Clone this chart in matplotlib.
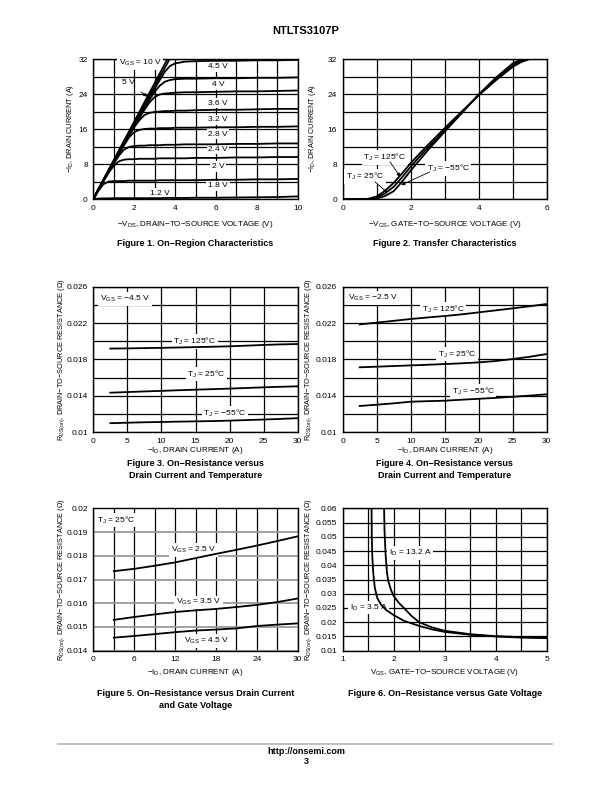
import matplotlib.pyplot as plt
import numpy as np

plt.rcParams['font.family'] = ['Liberation Sans', 'DejaVu Sans']
plt.rcParams['mathtext.fontset'] = 'custom'
plt.rcParams['mathtext.rm'] = 'Liberation Sans'
plt.rcParams['mathtext.it'] = 'Liberation Sans:italic'
plt.rcParams['mathtext.bf'] = 'Liberation Sans:bold'

# ---- Figure 1: on-region characteristics
vds = [0, 0.25, 0.5, 0.75, 1, 1.25, 1.5, 1.75, 2, 2.25, 2.5, 2.75, 3, 3.25, 3.5, 3.75, 4, 4.5, 5, 6, 7, 8, 9, 10]
id_10v = [0, 2.3, 4.5, 6.7, 8.9, 11.1, 13.3, 15.5, 17.7, 19.9, 22.1, 24.3, 26.5, 28.7, 30.9, 33.1]
id_5v = [0, 2.2, 4.4, 6.6, 8.7, 10.9, 13.0, 15.2, 17.3, 19.4, 21.6, 23.7, 25.8, 27.9, 30.0, 32.1]
id_45v = [0, 2.2, 4.4, 6.5, 8.7, 10.8, 12.9, 15.0, 17.1, 19.2, 21.2, 23.2, 25.2, 27.2, 29.1, 30.4, 31.0, 31.4, 31.5, 31.6, 31.6, 31.7, 31.7, 31.8]
id_4v = [0, 2.2, 4.3, 6.4, 8.5, 10.6, 12.7, 14.8, 16.8, 18.8, 20.8, 22.7, 24.5, 25.9, 26.8, 27.2, 27.4, 27.5, 27.5, 27.6, 27.6, 27.7, 27.7, 27.8]
id_36v = [0, 2.2, 4.3, 6.4, 8.5, 10.6, 12.6, 14.6, 16.6, 18.5, 20.4, 22.1, 23.3, 23.9, 24.1, 24.2, 24.3, 24.4, 24.4, 24.5, 24.6, 24.6, 24.7, 24.8]
id_32v = [0, 2.2, 4.3, 6.4, 8.4, 10.5, 12.5, 14.5, 16.4, 18.0, 19.2, 19.7, 19.9, 20.0, 20.1, 20.1, 20.2, 20.2, 20.3, 20.4, 20.4, 20.5, 20.6, 20.6]
id_28v = [0, 2.2, 4.3, 6.3, 8.3, 10.3, 12.3, 14.1, 15.3, 15.8, 16.0, 16.1, 16.1, 16.2, 16.2, 16.2, 16.3, 16.3, 16.3, 16.4, 16.4, 16.5, 16.5, 16.6]
id_24v = [0, 2.2, 4.2, 6.2, 8.1, 9.9, 11.3, 11.9, 12.1, 12.2, 12.2, 12.3, 12.3, 12.3, 12.4, 12.4, 12.4, 12.5, 12.5, 12.5, 12.6, 12.6, 12.7, 12.7]
id_2v = [0, 2.1, 4.1, 6.0, 7.6, 8.6, 9.0, 9.1, 9.1, 9.2, 9.2, 9.2, 9.2, 9.3, 9.3, 9.3, 9.3, 9.3, 9.4, 9.4, 9.5, 9.5, 9.6, 9.6]
id_18v = [0, 1.9, 3.4, 4.0, 4.1, 4.1, 4.1, 4.2, 4.2, 4.2, 4.2, 4.2, 4.2, 4.3, 4.3, 4.3, 4.3, 4.3, 4.3, 4.4, 4.4, 4.5, 4.5, 4.6]
id_12v = [0, 0.1, 0.15, 0.15, 0.2, 0.2, 0.2, 0.2, 0.2, 0.2, 0.2, 0.2, 0.2, 0.2, 0.25, 0.25, 0.25, 0.25, 0.3, 0.3, 0.35, 0.4, 0.45, 0.6]

# ---- Figure 2: transfer characteristics
vgs2 = [0, 0.5, 0.75, 1.0, 1.25, 1.5, 1.75, 2.0, 2.25, 2.5, 3.0, 3.5, 4.0, 4.5, 5.0, 5.25, 5.5, 6.0]
id_125c = [0, 0, 0.05, 0.6, 1.9, 3.7, 5.9, 8.2, 10.3, 12.3, 16.2, 20.0, 23.7, 27.1, 30.2, 31.3, 32.0, 32.5]
id_25c = [0, 0, 0, 0.3, 1.3, 2.8, 5.0, 7.4, 9.6, 11.7, 15.8, 19.8, 23.8, 27.4, 30.6, 31.6, 32.1, 32.5]
id_m55c = [0, 0, 0, 0.1, 0.7, 1.8, 4.0, 6.5, 8.8, 11.1, 15.4, 19.6, 23.9, 27.7, 31.0, 31.9, 32.3, 32.6]

# ---- Figures 3 and 4: on-resistance vs drain current and temperature
id34 = [2.5, 5, 7.5, 10, 12.5, 15, 17.5, 20, 22.5, 25, 27.5, 30]
r3_125c = [0.0192, 0.01922, 0.01925, 0.01928, 0.01932, 0.01936, 0.0194, 0.01945, 0.01952, 0.0196, 0.01966, 0.0197]
r3_25c = [0.01435, 0.01442, 0.01449, 0.01455, 0.01462, 0.01468, 0.01474, 0.0148, 0.01487, 0.01494, 0.015, 0.01505]
r3_m55c = [0.0110, 0.01105, 0.0111, 0.01113, 0.01117, 0.0112, 0.01123, 0.01128, 0.01134, 0.0114, 0.01147, 0.01155]
r4_125c = [0.02186, 0.02205, 0.02225, 0.02245, 0.02262, 0.02278, 0.02296, 0.02318, 0.0234, 0.02362, 0.02385, 0.0241]
r4_25c = [0.01714, 0.01721, 0.01728, 0.01735, 0.01742, 0.0175, 0.01758, 0.01768, 0.01783, 0.01805, 0.0183, 0.0186]
r4_m55c = [0.01289, 0.01303, 0.01318, 0.01336, 0.01342, 0.01347, 0.01358, 0.01368, 0.01378, 0.0139, 0.01403, 0.01417]

# ---- Figure 5: on-resistance vs drain current and gate voltage
id5 = [3, 6, 9, 12, 15, 18, 21, 24, 27, 30]
r5_25v = [0.01735, 0.01745, 0.01758, 0.01772, 0.0179, 0.01808, 0.01825, 0.01843, 0.01862, 0.01882]
r5_35v = [0.0153, 0.01542, 0.01553, 0.01563, 0.0157, 0.01576, 0.01584, 0.01593, 0.01605, 0.0162]
r5_45v = [0.01455, 0.01462, 0.0147, 0.01478, 0.01485, 0.01489, 0.01494, 0.01504, 0.0151, 0.01515]

# ---- Figure 6: on-resistance vs gate voltage
vgs_35a = [1.565, 1.57, 1.58, 1.6, 1.63, 1.68, 1.75, 1.85, 2.0, 2.2, 2.5, 2.75, 3.0, 3.5, 4.0, 4.5, 5.0]
r_35a = [0.061, 0.050, 0.043, 0.037, 0.032, 0.0284, 0.0262, 0.0243, 0.0225, 0.0205, 0.0187, 0.0175, 0.0166, 0.0156, 0.0150, 0.0146, 0.0144]
vgs_132a = [1.81, 1.82, 1.84, 1.87, 1.9, 1.95, 2.0, 2.1, 2.2, 2.35, 2.5, 2.75, 3.0, 3.5, 4.0, 4.5, 5.0]
r_132a = [0.061, 0.052, 0.044, 0.037, 0.034, 0.0312, 0.0292, 0.0268, 0.0250, 0.0222, 0.0200, 0.0182, 0.0170, 0.0158, 0.0151, 0.0148, 0.0146]

TICK = 6
LAB = 5.8
YLAB = 5.3
ANN = 6
LW = 1.3


def setup(ax, xlim, ylim, xgrid, ygrid, xticks, yticks, ylabels=None, ygray=False):
    ax.set_xlim(xlim)
    ax.set_ylim(ylim)
    ax.set_xticks(xticks)
    ax.set_yticks(yticks)
    if ylabels is not None:
        ax.set_yticklabels(ylabels)
    ax.set_xticks(xgrid, minor=True)
    ax.set_yticks(ygrid, minor=True)
    ax.set_axisbelow(True)
    ax.grid(axis='x', which='both', color='k', lw=0.9)
    if ygray:
        ax.grid(axis='y', which='both', color='#9a9a9a', lw=1.3)
    else:
        ax.grid(axis='y', which='both', color='k', lw=0.9)
    ax.tick_params(which='both', length=0, labelsize=TICK, pad=4)
    for s in ax.spines.values():
        s.set_linewidth(1.0)


def label(ax, x, y, s, ha='center'):
    ax.text(x, y, s, fontsize=ANN, ha=ha, va='center', zorder=3,
            bbox=dict(facecolor='white', edgecolor='none', pad=1.2))


fig = plt.figure(figsize=(6.12, 7.92), dpi=100)

fig.text(0.5, 1 - 31 / 792, 'NTLTS3107P', ha='center', va='center', fontsize=8, fontweight='bold')

# Figure 1
ax1 = fig.add_axes([0.1525, 0.7487, 0.334, 0.1768])
setup(ax1, (0, 10), (0, 32), np.arange(0, 11, 1), np.arange(0, 33, 4), [0, 2, 4, 6, 8, 10], [0, 8, 16, 24, 32])
ax1.plot(vds[:len(id_10v)], id_10v, 'k', lw=LW, zorder=4)
ax1.plot(vds[:len(id_5v)], id_5v, 'k', lw=LW, zorder=4)
for curve in [id_45v, id_4v, id_36v, id_32v, id_28v, id_24v, id_2v, id_18v, id_12v]:
    ax1.plot(vds, curve, 'k', lw=LW, zorder=4)
label(ax1, 2.29, 31.0, 'V$_{\\mathrm{GS}}$ = 10 V')
ax1.annotate('5 V', xy=(2.64, 23.4), xytext=(1.71, 26.7), fontsize=ANN, ha='center', va='center',
             arrowprops=dict(arrowstyle='-|>', color='k', lw=0.6, mutation_scale=5, shrinkA=4, shrinkB=0))
for y, s in [(30.2, '4.5 V'), (26.2, '4 V'), (21.9, '3.6 V'), (18.1, '3.2 V'), (14.8, '2.8 V'),
             (11.4, '2.4 V'), (7.4, '2 V'), (3.0, '1.8 V')]:
    label(ax1, 6.1, y, s)
label(ax1, 3.26, 1.3, '1.2 V')

# Figure 2
ax2 = fig.add_axes([0.560, 0.7487, 0.3333, 0.1768])
setup(ax2, (0, 6), (0, 32), np.arange(0, 7, 1), np.arange(0, 33, 4), [0, 2, 4, 6], [0, 8, 16, 24, 32])
ax2.plot(vgs2, id_125c, 'k', lw=LW, zorder=4)
ax2.plot(vgs2, id_25c, 'k', lw=LW, zorder=4)
ax2.plot(vgs2, id_m55c, 'k', lw=LW, zorder=4)
arrow = dict(arrowstyle='-|>', color='k', lw=0.6, mutation_scale=5, shrinkA=0, shrinkB=0)
label(ax2, 1.24, 9.5, 'T$_{\\mathrm{J}}$ = 125°C')
ax2.annotate('', xy=(1.69, 5.1), xytext=(1.39, 8.5), arrowprops=arrow)
label(ax2, 0.66, 5.1, 'T$_{\\mathrm{J}}$ = 25°C')
ax2.annotate('', xy=(1.31, 1.45), xytext=(0.95, 3.96), arrowprops=arrow)
label(ax2, 3.1, 7.0, 'T$_{\\mathrm{J}}$ = −55°C')
ax2.annotate('', xy=(1.72, 3.2), xytext=(2.56, 6.2), arrowprops=arrow)

# Figure 3
ax3 = fig.add_axes([0.1525, 0.4542, 0.334, 0.1838])
setup(ax3, (0, 30), (0.01, 0.026), np.arange(0, 31, 5), np.arange(0.01, 0.0261, 0.002), [0, 5, 10, 15, 20, 25, 30],
      [0.01, 0.014, 0.018, 0.022, 0.026], ['0.01', '0.014', '0.018', '0.022', '0.026'])
ax3.plot(id34, r3_125c, 'k', lw=LW, zorder=4)
ax3.plot(id34, r3_25c, 'k', lw=LW, zorder=4)
ax3.plot(id34, r3_m55c, 'k', lw=LW, zorder=4)
label(ax3, 1.0, 0.02465, 'V$_{\\mathrm{GS}}$ = −4.5 V', ha='left')
label(ax3, 14.9, 0.01996, 'T$_{\\mathrm{J}}$ = 125°C')
label(ax3, 16.6, 0.0164, 'T$_{\\mathrm{J}}$ = 25°C')
label(ax3, 19.3, 0.0121, 'T$_{\\mathrm{J}}$ = −55°C')

# Figure 4
ax4 = fig.add_axes([0.560, 0.4542, 0.3333, 0.1838])
setup(ax4, (0, 30), (0.01, 0.026), np.arange(0, 31, 5), np.arange(0.01, 0.0261, 0.002), [0, 5, 10, 15, 20, 25, 30],
      [0.01, 0.014, 0.018, 0.022, 0.026], ['0.01', '0.014', '0.018', '0.022', '0.026'])
ax4.plot(id34, r4_125c, 'k', lw=LW, zorder=4)
ax4.plot(id34, r4_25c, 'k', lw=LW, zorder=4)
ax4.plot(id34, r4_m55c, 'k', lw=LW, zorder=4)
label(ax4, 0.8, 0.02473, 'V$_{\\mathrm{GS}}$ = −2.5 V', ha='left')
label(ax4, 14.8, 0.02352, 'T$_{\\mathrm{J}}$ = 125°C')
label(ax4, 16.8, 0.0186, 'T$_{\\mathrm{J}}$ = 25°C')
label(ax4, 19.2, 0.01446, 'T$_{\\mathrm{J}}$ = −55°C')

# Figure 5
ax5 = fig.add_axes([0.1525, 0.1784, 0.334, 0.1798])
setup(ax5, (0, 30), (0.014, 0.02), np.arange(0, 31, 3), np.arange(0.014, 0.02001, 0.001), [0, 6, 12, 18, 24, 30],
      [0.014, 0.015, 0.016, 0.017, 0.018, 0.019, 0.02],
      ['0.014', '0.015', '0.016', '0.017', '0.018', '0.019', '0.02'], ygray=True)
ax5.plot(id5, r5_25v, 'k', lw=LW, zorder=4)
ax5.plot(id5, r5_35v, 'k', lw=LW, zorder=4)
ax5.plot(id5, r5_45v, 'k', lw=LW, zorder=4)
label(ax5, 0.6, 0.01951, 'T$_{\\mathrm{J}}$ = 25°C', ha='left')
label(ax5, 14.7, 0.01824, 'V$_{\\mathrm{GS}}$ = 2.5 V')
label(ax5, 15.4, 0.01604, 'V$_{\\mathrm{GS}}$ = 3.5 V')
label(ax5, 16.6, 0.01440, 'V$_{\\mathrm{GS}}$ = 4.5 V')

# Figure 6
ax6 = fig.add_axes([0.560, 0.1784, 0.3333, 0.1798])
r6_ticks = [0.01, 0.015, 0.02, 0.025, 0.03, 0.035, 0.04, 0.045, 0.05, 0.055, 0.06]
setup(ax6, (1, 5), (0.01, 0.06), np.arange(1, 5.01, 0.5), r6_ticks, [1, 2, 3, 4, 5], r6_ticks,
      ['0.01', '0.015', '0.02', '0.025', '0.03', '0.035', '0.04', '0.045', '0.05', '0.055', '0.06'])
ax6.plot(vgs_35a, r_35a, 'k', lw=LW, zorder=4)
ax6.plot(vgs_132a, r_132a, 'k', lw=LW, zorder=4)
label(ax6, 1.91, 0.0444, 'I$_{\\mathrm{D}}$ = 13.2 A', ha='left')
label(ax6, 1.14, 0.0252, 'I$_{\\mathrm{D}}$ = 3.5 A', ha='left')

# axis titles and captions
ylab_i = '−I$_{\\mathrm{D}}$, DRAIN CURRENT (A)'
ylab_r = 'R$_{\\mathrm{DS(on)}}$, DRAIN−TO−SOURCE RESISTANCE (Ω)'
fig.text(71 / 612, 1 - 129 / 792, ylab_i, rotation=90, ha='center', va='center', fontsize=YLAB)
fig.text(312 / 612, 1 - 129 / 792, ylab_i, rotation=90, ha='center', va='center', fontsize=YLAB)
for x in [62 / 612, 309 / 612]:
    fig.text(x, 1 - 360 / 792, ylab_r, rotation=90, ha='center', va='center', fontsize=YLAB)
    fig.text(x, 1 - 580 / 792, ylab_r, rotation=90, ha='center', va='center', fontsize=YLAB)

xc1 = 195.5 / 612
xc2 = 444.7 / 612
fig.text(xc1, 1 - 224 / 792, '−V$_{\\mathrm{DS}}$, DRAIN−TO−SOURCE VOLTAGE (V)', ha='center', va='center', fontsize=LAB)
fig.text(xc2, 1 - 224 / 792, '−V$_{\\mathrm{GS}}$, GATE−TO−SOURCE VOLTAGE (V)', ha='center', va='center', fontsize=LAB)
fig.text(xc1, 1 - 244 / 792, 'Figure 1. On−Region Characteristics', ha='center', va='center', fontsize=6.5, fontweight='bold')
fig.text(xc2, 1 - 244 / 792, 'Figure 2. Transfer Characteristics', ha='center', va='center', fontsize=6.5, fontweight='bold')

for xc in [xc1, xc2]:
    fig.text(xc, 1 - 451 / 792, '−I$_{\\mathrm{D}}$, DRAIN CURRENT (A)', ha='center', va='center', fontsize=LAB)
fig.text(xc1, 1 - 464 / 792, 'Figure 3. On−Resistance versus', ha='center', va='center', fontsize=6.5, fontweight='bold')
fig.text(xc1, 1 - 476 / 792, 'Drain Current and Temperature', ha='center', va='center', fontsize=6.5, fontweight='bold')
fig.text(xc2, 1 - 464 / 792, 'Figure 4. On−Resistance versus', ha='center', va='center', fontsize=6.5, fontweight='bold')
fig.text(xc2, 1 - 476 / 792, 'Drain Current and Temperature', ha='center', va='center', fontsize=6.5, fontweight='bold')

fig.text(xc1, 1 - 673 / 792, '−I$_{\\mathrm{D}}$, DRAIN CURRENT (A)', ha='center', va='center', fontsize=LAB)
fig.text(xc2, 1 - 673 / 792, 'V$_{\\mathrm{GS}}$, GATE−TO−SOURCE VOLTAGE (V)', ha='center', va='center', fontsize=LAB)
fig.text(xc1, 1 - 693 / 792, 'Figure 5. On−Resistance versus Drain Current', ha='center', va='center', fontsize=6.5, fontweight='bold')
fig.text(xc1, 1 - 705 / 792, 'and Gate Voltage', ha='center', va='center', fontsize=6.5, fontweight='bold')
fig.text(xc2, 1 - 693 / 792, 'Figure 6. On−Resistance versus Gate Voltage', ha='center', va='center', fontsize=6.5, fontweight='bold')

# footer
fig.add_artist(plt.Line2D([58 / 612, 552 / 612], [1 - 744 / 792, 1 - 744 / 792], color='#b4b4b4', lw=1.2))
fig.text(0.5, 1 - 752 / 792, 'http://onsemi.com', ha='center', va='center', fontsize=6.5, fontweight='bold')
fig.text(0.5, 1 - 762 / 792, '3', ha='center', va='center', fontsize=6.5, fontweight='bold')

fig.savefig('out.png', dpi=100)
